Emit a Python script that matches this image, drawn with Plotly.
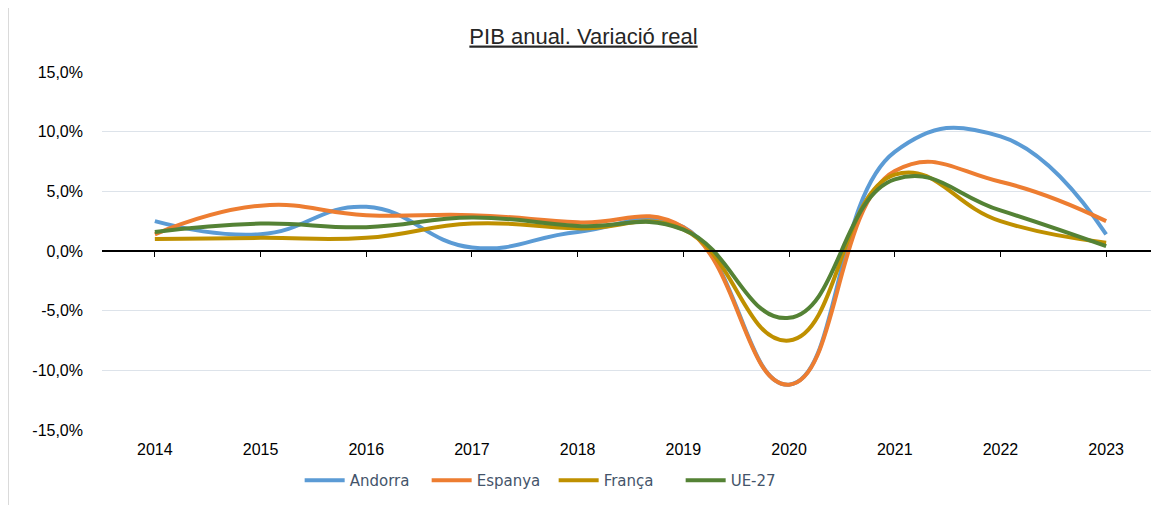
import plotly.graph_objects as go

years = ["2014", "2015", "2016", "2017", "2018", "2019", "2020", "2021", "2022", "2023"]
andorra = [2.5, 1.4, 3.7, 0.3, 1.6, 2.0, -11.2, 8.3, 9.6, 1.4]
espanya = [1.4, 3.8, 3.0, 3.0, 2.4, 2.0, -11.2, 6.7, 5.8, 2.5]
franca = [1.0, 1.1, 1.1, 2.3, 1.9, 1.8, -7.5, 6.4, 2.5, 0.7]
ue27 = [1.6, 2.3, 2.0, 2.8, 2.1, 1.8, -5.6, 6.0, 3.4, 0.4]
y_ticks = [-15, -10, -5, 0, 5, 10, 15]
y_ticktext = [f"{v:.1f}%".replace(".", ",") for v in y_ticks]

series = [
    ("Andorra", andorra, "#5B9BD5"),
    ("Espanya", espanya, "#ED7D31"),
    ("França", franca, "#BF9000"),
    ("UE-27", ue27, "#548235"),
]

fig = go.Figure()
for name, vals, color in series:
    fig.add_trace(go.Scatter(
        x=years, y=vals, name=name, mode="lines",
        line=dict(color=color, width=4, shape="spline", smoothing=1.3),
    ))

# invisible trace so the zero-line axis with tick marks gets drawn
fig.add_trace(go.Scatter(x=years, y=[None] * len(years), xaxis="x2",
                         showlegend=False, hoverinfo="skip"))

# page body has an 8px margin, so the figure is shifted by 8px
fig.update_layout(
    width=1151, height=497,
    margin=dict(l=94, r=0, t=64, b=75),
    paper_bgcolor="white", plot_bgcolor="white",
    font=dict(family="Liberation Sans, Arial", size=16, color="#000000"),
    title=dict(text="<u>PIB anual. Variació real</u>", x=0.5, xanchor="center",
               y=0.944, yanchor="middle",
               font=dict(family="Liberation Sans, Arial", size=22, color="#262626")),
    xaxis=dict(type="category", range=[-0.5, 9.5], showgrid=False, showline=False,
               zeroline=False, ticks="", ticklabelstandoff=8,
               tickfont=dict(size=16, color="#000000")),
    xaxis2=dict(type="category", overlaying="x", anchor="free", position=0.5,
                matches="x", range=[-0.5, 9.5], showline=True, linecolor="#000000",
                linewidth=1.5, ticks="outside", ticklen=5, tickcolor="#000000",
                showticklabels=False, showgrid=False, side="bottom"),
    yaxis=dict(range=[-15, 15], tickmode="array", tickvals=y_ticks, ticktext=y_ticktext,
               showgrid=True, gridcolor="#DDE3EA", gridwidth=1.2, zeroline=False,
               showline=False, ticks="", ticklabelstandoff=18,
               tickfont=dict(size=16, color="#000000")),
    legend=dict(orientation="h", x=0.187, xanchor="left", y=-0.095, yanchor="top",
                font=dict(family="DejaVu Sans, Liberation Sans", size=15, color="#44546A"),
                itemwidth=40, entrywidth=72, entrywidthmode="pixels"),
    shapes=[dict(type="rect", xref="paper", yref="paper",
                 x0=-0.0885, x1=1.0, y0=-0.3, y1=1.19,
                 line=dict(color="#D9D9D9", width=1), layer="below")],
)

fig.write_html("out.html")
